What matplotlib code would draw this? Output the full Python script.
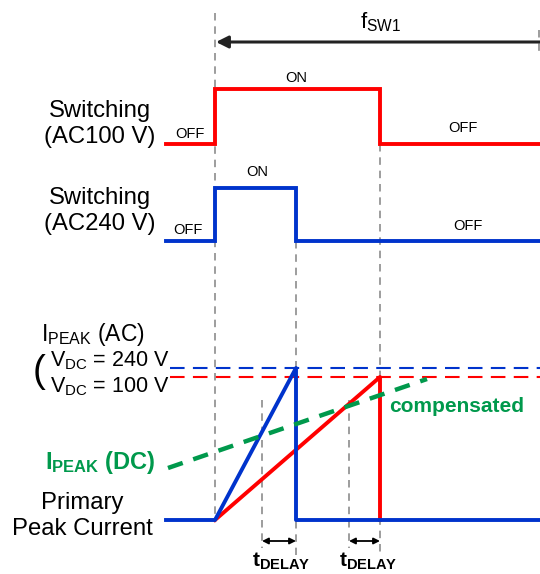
import matplotlib.pyplot as plt

plt.rcParams['font.family'] = ['Liberation Sans', 'DejaVu Sans']
plt.rcParams['mathtext.fontset'] = 'custom'
plt.rcParams['mathtext.rm'] = 'Liberation Sans'
plt.rcParams['mathtext.bf'] = 'Liberation Sans:bold'

# time points of the diagram (x, pixels)
x_left = 166
x_on = 215
x_off_240 = 296
x_off_100 = 380
x_right = 540
x_delay = [262, 349]

# levels (y, pixels from top)
sw100_low, sw100_high = 144, 89
sw240_low, sw240_high = 241, 188
base_y = 520
peak_240 = 368
peak_100 = 377
comp_x = [168, 427]
comp_y = [468, 379]

red = '#FF0000'
blue = '#0033CC'
green = '#00994C'
gray = '#8C8C8C'

fig = plt.figure(figsize=(5.4, 5.74), dpi=100)
ax = fig.add_axes([0, 0, 1, 1])
ax.set_xlim(0, 540)
ax.set_ylim(574, 0)
ax.axis('off')

# gray guide lines
guides = [(x_on, 13, base_y), (x_off_240, sw240_low, 555), (x_off_100, sw100_low, 555),
          (x_delay[0], 400, 548), (x_delay[1], 400, 548), (539, 30, 52)]
for gx, y0, y1 in guides:
    ax.plot([gx, gx], [y0, y1], color=gray, lw=1.2, dashes=(4.5, 3.5), zorder=1)

# switching waveforms
ax.plot([x_left, x_on, x_on, x_off_100, x_off_100, x_right],
        [sw100_low, sw100_low, sw100_high, sw100_high, sw100_low, sw100_low],
        color=red, lw=2.8, solid_joinstyle='miter', zorder=3)
ax.plot([x_left, x_on, x_on, x_off_240, x_off_240, x_right],
        [sw240_low, sw240_low, sw240_high, sw240_high, sw240_low, sw240_low],
        color=blue, lw=2.8, solid_joinstyle='miter', zorder=3)

# peak levels
ax.plot([170, x_right], [peak_240, peak_240], color=blue, lw=1.5, dashes=(7, 4), zorder=2)
ax.plot([170, x_right], [peak_100, peak_100], color=red, lw=1.5, dashes=(7, 4), zorder=2)

# current ramps
ax.plot([x_on, x_off_100, x_off_100], [base_y, peak_100, base_y], color=red, lw=2.8, zorder=3)
ax.plot([x_left, x_on, x_off_240, x_off_240, x_right],
        [base_y, base_y, peak_240, base_y, base_y], color=blue, lw=2.8, zorder=4)

# compensated peak
ax.plot(comp_x, comp_y, color=green, lw=3.2, dashes=(3.5, 2.5), zorder=5)

# fSW1 arrow
ax.annotate('', xy=(x_on + 1, 42), xytext=(x_right + 2, 42),
            arrowprops=dict(arrowstyle='-|>', color='#222222', lw=2.2,
                            mutation_scale=18, shrinkA=0, shrinkB=0))
ax.text(381, 22, r'f$_{\mathrm{SW1}}$', fontsize=16, ha='center', va='center')

# tDELAY arrows
for xd, xe in zip(x_delay, [x_off_240, x_off_100]):
    ax.annotate('', xy=(xd, 541), xytext=(xe, 541),
                arrowprops=dict(arrowstyle='<|-|>', color='black', lw=1.3,
                                mutation_scale=9, shrinkA=0, shrinkB=0))
ax.text(281, 561, r'$\mathbf{t_{DELAY}}$', fontsize=15, ha='center', va='center')
ax.text(368, 561, r'$\mathbf{t_{DELAY}}$', fontsize=15, ha='center', va='center')

# state labels
ax.text(x_off_240, 78, 'ON', fontsize=10.5, ha='center', va='center')
ax.text(190, 134, 'OFF', fontsize=10.5, ha='center', va='center')
ax.text(463, 128, 'OFF', fontsize=10.5, ha='center', va='center')
ax.text(257, 172, 'ON', fontsize=10.5, ha='center', va='center')
ax.text(188, 230, 'OFF', fontsize=10.5, ha='center', va='center')
ax.text(468, 226, 'OFF', fontsize=10.5, ha='center', va='center')

# left labels
ax.text(100, 124, 'Switching\n(AC100 V)', fontsize=17.2, ha='center', va='center', linespacing=1.2)
ax.text(100, 211, 'Switching\n(AC240 V)', fontsize=17.2, ha='center', va='center', linespacing=1.2)
ax.text(41, 334, r'I$_{\mathrm{PEAK}}$ (AC)', fontsize=16.5, ha='left', va='center')
ax.text(50, 361, r'V$_{\mathrm{DC}}$ = 240 V', fontsize=15.5, ha='left', va='center')
ax.text(50, 387, r'V$_{\mathrm{DC}}$ = 100 V', fontsize=15.5, ha='left', va='center')
ax.text(39, 372, '(', fontsize=28, ha='center', va='center', fontweight='light')
ax.text(45, 463, r'$\mathbf{I_{PEAK}}$ (DC)', fontsize=17, ha='left', va='center',
        color=green, fontweight='bold')
ax.text(82, 516, 'Primary\nPeak Current', fontsize=17.2, ha='center', va='center', linespacing=1.2)
ax.text(389, 407, 'compensated', fontsize=15, ha='left', va='center', color=green,
        fontweight='bold')

fig.savefig('out.png', dpi=100)
